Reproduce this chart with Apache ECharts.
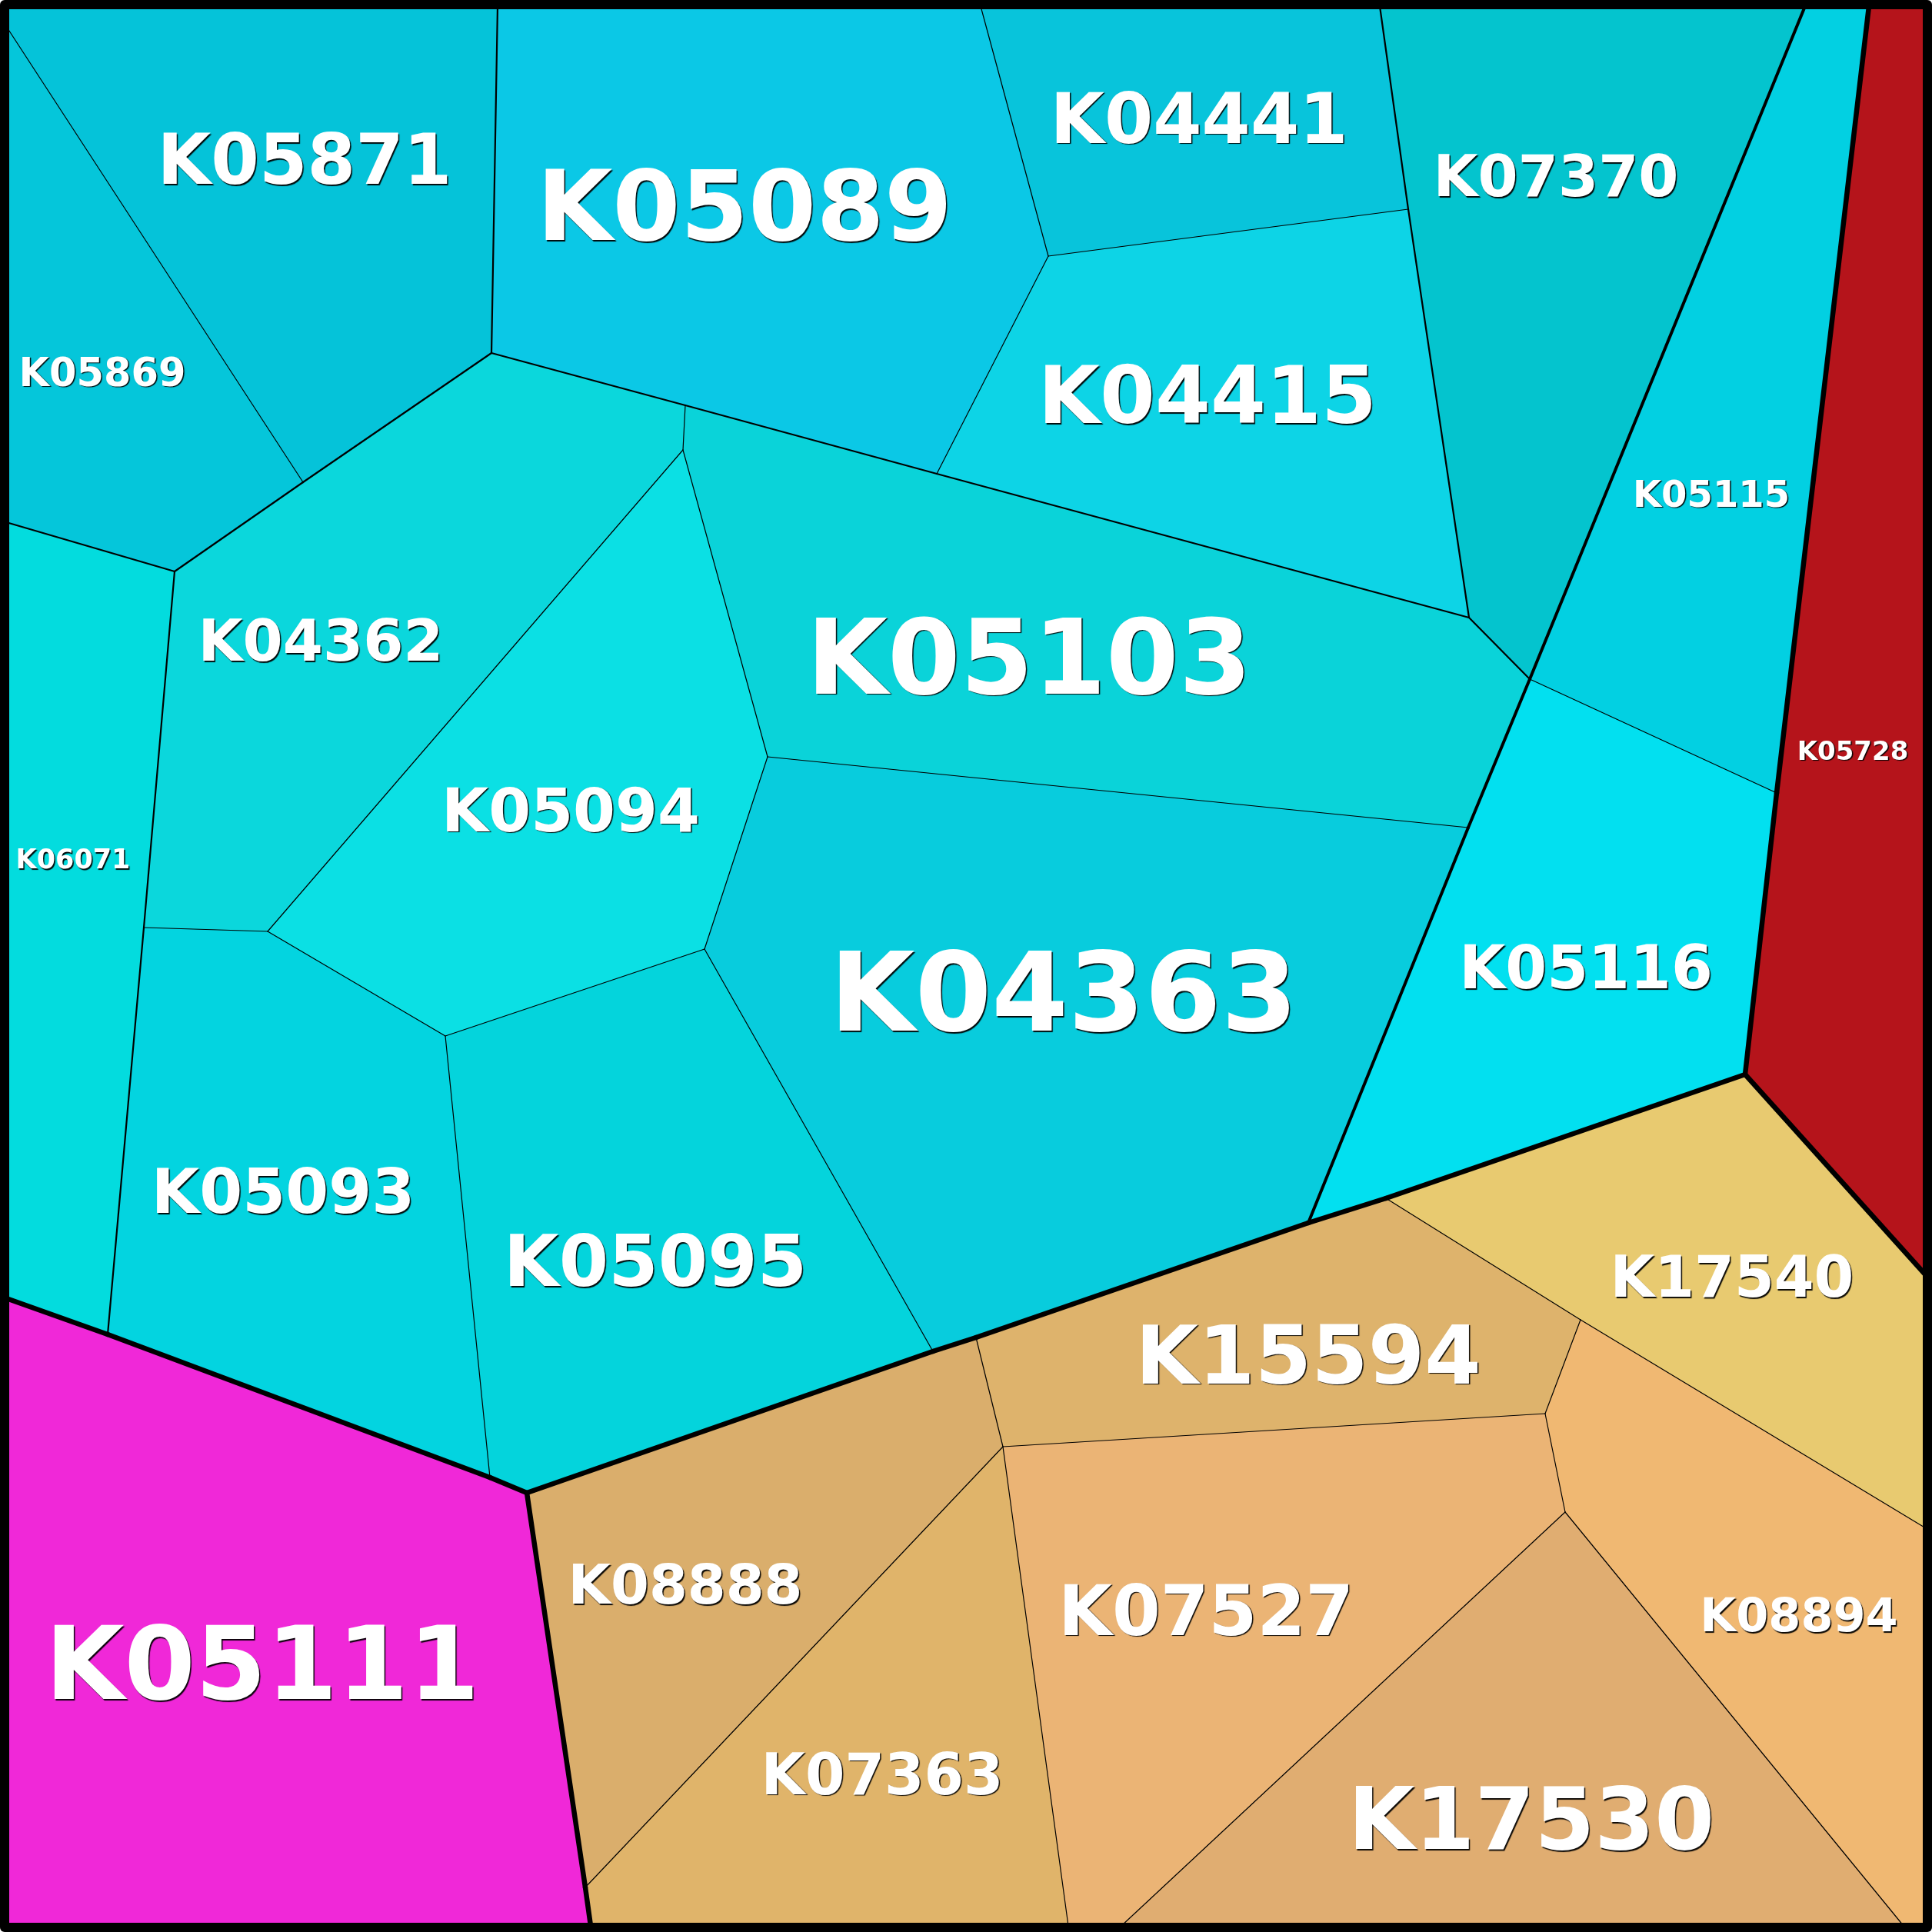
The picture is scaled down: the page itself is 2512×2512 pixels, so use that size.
<!DOCTYPE html>
<html>
<head>
<meta charset="utf-8">
<script src="https://cdn.jsdelivr.net/npm/echarts@6/dist/echarts.min.js"></script>
<style>
  html, body { margin: 0; padding: 0; background: #ffffff; }
  #chart { width: 2512px; height: 2512px; background: #000; border-radius: 6px; }
</style>
</head>
<body>
<div id="chart"></div>
<script>
// ---------------- DATA ----------------
// Voronoi cell names (KEGG orthologs)
const cellNames = [
  'K05871','K05869','K05089','K04441','K07370','K04415','K05115','K05728',
  'K05103','K04362','K06071','K05094','K04363','K05116','K05093','K05095',
  'K05111','K15594','K17540','K08888','K07363','K07527','K08894','K17530'
];
// Hierarchy path of each cell (group / subgroup / ...)
const cellGroups = [
  'cyan/rest/tl','cyan/rest/tl','cyan/rest/top','cyan/rest/top','cyan/rest','cyan/rest/top','cyan/pair','',
  'cyan/rest/low','cyan/rest/low','cyan/rest','cyan/rest/low','cyan/rest/low','cyan/pair','cyan/rest/low','cyan/rest/low',
  '','tan','tan','tan','tan','tan','tan','tan'
];
// Shared Voronoi vertices (layout units, 0..2512)
const vertexIds = ['TL','TR','BR','BL','A','B','C','D','E','F','G','H','I','J','K','L','M','N','O','P','Q','R','S','T','U','V','W','X','Y','Z',
  'AA','AB','AC','AD','AE','AF','AG','AH','AI','AJ','AK','AL','AM','AN','AO','AP','AQ','AR'];
const vertexX = [8,2504,2504,8,647,639,394,8,227,8,891,888,1218,1363,1275,1831,1794,1910,1989,2347,2430,2310,1909,998,916,579,348,187,140,8,
  637,685,1213,1701,2269,2504,1802,1269,1304,2009,2055,2504,2035,2475,1458,1389,761,768];
const vertexY = [8,8,2504,2504,8,459,627,34,743,679,527,585,616,333,8,272,8,803,883,8,8,1031,1076,984,1234,1347,1211,1206,1735,1688,
  1921,1941,1757,1590,1397,1658,1558,1739,1881,1838,1716,1987,1966,2504,2504,2504,2454,2504];
// Polygon rings of each cell (vertex ids)
const cellRings = [
  ['TL','A','B','C','D'],
  ['D','C','E','F'],
  ['A','K','J','I','G','B'],
  ['K','M','L','J'],
  ['M','P','O','N','L'],
  ['J','L','N','I'],
  ['P','Q','R','O'],
  ['Q','TR','AF','AE','R'],
  ['G','I','N','O','S','T','H'],
  ['B','G','H','W','X','E','C'],
  ['F','E','X','Y','Z'],
  ['H','T','U','V','W'],
  ['T','S','AD','AH','AC','U'],
  ['O','R','AE','AG','AD','S'],
  ['X','W','V','AA','Y'],
  ['V','U','AC','AB','AA'],
  ['Z','Y','AA','AB','AQ','AR','BL'],
  ['AH','AD','AG','AK','AJ','AI'],
  ['AE','AF','AL','AK','AG'],
  ['AB','AC','AH','AI','AQ'],
  ['AQ','AI','AP','AR'],
  ['AI','AJ','AM','AO','AP'],
  ['AK','AL','BR','AN','AM','AJ'],
  ['AM','AN','AO']
];
// Label anchor (cell site) of each cell, listed in siteOrder
const siteOrder = ['K05871','K05089','K04441','K07370','K04415','K05115','K05728','K05869','K05103','K04362','K06071','K05094','K04363','K05116','K05093','K05095',
  'K05111','K15594','K17540','K08888','K07363','K07527','K08894','K17530'];
const siteX = [396,968,1559,2023,1570,2225,2409,133,1338,417,95,742,1383,2062,368,852,341,1701,2252,891,1147,1568,2339,1991];
const siteY = [208,268,154,229,514,642,976,484,854,833,1117,1053,1290,1258,1549,1640,2163,1762,1660,2060,2307,2094,2100,2365];

// ---------------- STYLE ----------------
const CELL_COLOR = {
  K05871:'#05C3D9', K05869:'#05C6DA', K05089:'#0BC8E6', K04441:'#08C4DB', K07370:'#04C4CE',
  K04415:'#0DD4E6', K05115:'#02D0E2', K05728:'#B5141B', K05103:'#0AD3D9', K04362:'#0BD7DC',
  K06071:'#03DCDE', K05094:'#0BE0E4', K04363:'#08CCDD', K05116:'#02E0F0', K05093:'#03D4E0',
  K05095:'#04D4DC', K05111:'#F028D8', K15594:'#DEB36C', K17540:'#E8CA70', K08888:'#DAAE6C',
  K07363:'#E0B46A', K07527:'#EBB475', K08894:'#F0B872', K17530:'#E0AD71'
};
const LABEL_PX = {
  K05871:90, K05869:51, K05089:127, K04441:91, K07370:75, K04415:103.5, K05115:48, K05728:34,
  K05103:136, K04362:75, K06071:35, K05094:79, K04363:143, K05116:77.5, K05093:80.5, K05095:92.7,
  K05111:132.7, K15594:105.7, K17540:74.5, K08888:71.7, K07363:74, K07527:90.3, K08894:60.5, K17530:112
};
const LABEL_DROP_EM = 0.09;
const DEPTH_WIDTH = [0, 6.5, 4, 2.2];
const LEAF_WIDTH = 1.2;
const FRAME_WIDTH = 8;

// ---------------- BUILD ----------------
const V = {};
vertexIds.forEach((id, i) => { V[id] = [vertexX[i], vertexY[i]]; });

function pathOf(i) {
  const g = cellGroups[i];
  const parts = g ? g.split('/') : [];
  return parts.concat(['#' + cellNames[i]]);
}
function nodeWidth(path, k) {
  const isLeaf = (k === path.length - 1);
  if (isLeaf) return LEAF_WIDTH;
  return DEPTH_WIDTH[k + 1] || LEAF_WIDTH;
}
function edgeWidth(a, b) {
  const pa = pathOf(a), pb = pathOf(b);
  let k = 0;
  while (k < pa.length && k < pb.length && pa[k] === pb[k]) k++;
  return Math.max(nodeWidth(pa, k), nodeWidth(pb, k));
}

const edgeMap = {};
cellRings.forEach((ring, ci) => {
  for (let j = 0; j < ring.length; j++) {
    const a = ring[j], b = ring[(j + 1) % ring.length];
    const key = a < b ? a + '|' + b : b + '|' + a;
    if (!edgeMap[key]) edgeMap[key] = { a, b, cells: [] };
    edgeMap[key].cells.push(ci);
  }
});
const edgeData = Object.values(edgeMap).map(e => {
  const w = e.cells.length === 2 ? edgeWidth(e.cells[0], e.cells[1]) : FRAME_WIDTH;
  return [V[e.a][0], V[e.a][1], V[e.b][0], V[e.b][1], w];
}).sort((p, q) => p[4] - q[4]);

const cellData = cellNames.map((n, i) => {
  const si = siteOrder.indexOf(n);
  return [siteX[si], siteY[si], i];
});

const chart = echarts.init(document.getElementById('chart'), null, { renderer: 'canvas' });
chart.setOption({
  backgroundColor: 'transparent',
  animation: false,
  grid: { left: 0, right: 0, top: 0, bottom: 0 },
  xAxis: { type: 'value', min: 0, max: 2512, show: false },
  yAxis: { type: 'value', min: 0, max: 2512, inverse: true, show: false },
  series: [
    {
      type: 'custom', coordinateSystem: 'cartesian2d', silent: true, z: 1,
      encode: { x: 0, y: 1 },
      data: cellData,
      renderItem: function (params, api) {
        const i = api.value(2);
        const pts = cellRings[i].map(id => api.coord(V[id]));
        return { type: 'polygon', shape: { points: pts },
          style: { fill: CELL_COLOR[cellNames[i]], stroke: CELL_COLOR[cellNames[i]], lineWidth: 0.5 } };
      }
    },
    {
      type: 'custom', coordinateSystem: 'cartesian2d', silent: true, z: 2,
      encode: { x: [0, 2], y: [1, 3] },
      data: edgeData,
      renderItem: function (params, api) {
        const p1 = api.coord([api.value(0), api.value(1)]);
        const p2 = api.coord([api.value(2), api.value(3)]);
        return { type: 'line', shape: { x1: p1[0], y1: p1[1], x2: p2[0], y2: p2[1] },
          style: { stroke: '#000', lineWidth: api.value(4), lineCap: 'round' } };
      }
    },
    {
      type: 'custom', coordinateSystem: 'cartesian2d', silent: true, z: 3,
      encode: { x: 0, y: 1 },
      data: cellData,
      renderItem: function (params, api) {
        const i = api.value(2);
        const p = api.coord([api.value(0), api.value(1)]);
        const name = cellNames[i];
        const fs = LABEL_PX[name];
        return { type: 'text', x: p[0], y: p[1] + fs * LABEL_DROP_EM,
          style: { text: name, align: 'center', verticalAlign: 'middle',
            fontFamily: 'DejaVu Sans', fontWeight: 'bold', fontSize: fs,
            fill: '#ffffff',
            textShadowColor: 'rgba(0,0,0,0.95)', textShadowBlur: 1,
            textShadowOffsetX: 1.5, textShadowOffsetY: 1.5 } };
      }
    }
  ]
});
</script>
</body>
</html>
